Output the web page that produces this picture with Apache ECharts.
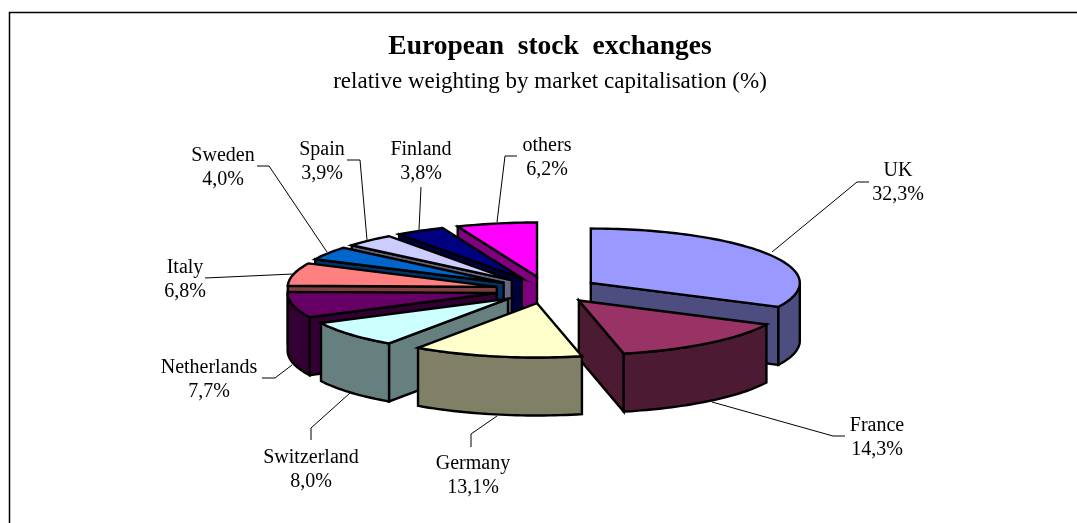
<!DOCTYPE html>
<html><head><meta charset="utf-8">
<style>html,body{margin:0;padding:0;background:#fff}#c{width:1077px;height:523px}</style>
<script src="https://cdn.jsdelivr.net/npm/echarts@6/dist/echarts.min.js"></script>
</head><body><div id="c"></div>
<script>
const categories = ['UK','France','Germany','Switzerland','Netherlands','Italy','Sweden','Spain','Finland','others'];
const values = [32.3,14.3,13.1,8.0,7.7,6.8,4.0,3.9,3.8,6.2];
const valueLabels = ['32,3%','14,3%','13,1%','8,0%','7,7%','6,8%','4,0%','3,9%','3,8%','6,2%'];
const topColors = ['#9999FF','#993366','#FFFFCC','#CCFFFF','#660066','#FF8080','#0066CC','#CCCCFF','#000080','#FF00FF'];
const sideColors = ['#4D4D80','#4D1A33','#808066','#668080','#330033','#804040','#003366','#666680','#000040','#800080'];
const paintOrder = [9,8,7,6,5,4,3,0,1,2];
const labelPos = [[898,183],[877,438],[473,476],[311,470],[209,380],[185,280],[223,168],[322,162],[421,162],[547,158]];
const leaders = [
 [[772,252],[857,182],[869,182]],
 [[712,402],[833,436],[845,436]],
 [[497,416],[471,434],[471,447]],
 [[350,393],[311,428],[311,440]],
 [[262,378],[275,378],[292,365]],
 [[205,278],[293,274]],
 [[257,166],[269,166],[327,252]],
 [[347,160],[360,160],[367,240]],
 [[421,187],[419,230]],
 [[517,156],[505,156],[497,222]]
];
const G = {cx:547, cy:290, R:209, k:0.26, explode:51.6, depth:58};
const total = values.reduce((a,b)=>a+b,0);
let acc = 0;
const slices = values.map(v=>{const a0=acc/total*360; acc+=v; return {a0, a1:acc/total*360};});
const rad = d=>d*Math.PI/180;
function pt(api,i,deg,r,dz){
  const s=slices[i], m=(s.a0+s.a1)/2;
  const ax=G.cx+G.explode*Math.sin(rad(m)), ay=G.cy-G.explode*G.k*Math.cos(rad(m));
  return api.coord([ax+r*Math.sin(rad(deg)), ay-r*G.k*Math.cos(rad(deg))+dz]);
}
function poly(points,fill){
  return {type:'polygon',shape:{points},style:{fill,stroke:'#000',lineWidth:2.4,lineJoin:'miter'}};
}
function renderItem(params,api){
  const i=paintOrder[params.dataIndex], s=slices[i], side=sideColors[i], kids=[];
  const D=G.depth;
  if(Math.sin(rad(s.a0))<0) kids.push(poly([pt(api,i,s.a0,0,0),pt(api,i,s.a0,G.R,0),pt(api,i,s.a0,G.R,D),pt(api,i,s.a0,0,D)],side));
  if(Math.sin(rad(s.a1))>0) kids.push(poly([pt(api,i,s.a1,0,0),pt(api,i,s.a1,G.R,0),pt(api,i,s.a1,G.R,D),pt(api,i,s.a1,0,D)],side));
  const f0=Math.max(s.a0,90), f1=Math.min(s.a1,270);
  if(f1>f0){
    const up=[],dn=[];
    for(let d=f0;d<f1;d+=1.5){up.push(pt(api,i,d,G.R,0));dn.unshift(pt(api,i,d,G.R,D));}
    up.push(pt(api,i,f1,G.R,0));dn.unshift(pt(api,i,f1,G.R,D));
    kids.push(poly(up.concat(dn),side));
  }
  const top=[pt(api,i,s.a0,0,0)];
  for(let d=s.a0;d<s.a1;d+=1.5) top.push(pt(api,i,d,G.R,0));
  top.push(pt(api,i,s.a1,G.R,0));
  kids.push(poly(top,topColors[i]));
  return {type:'group',children:kids};
}
const chart=echarts.init(document.getElementById('c'),null,{renderer:'canvas'});
const FONT='"Liberation Serif","Times New Roman",serif';
chart.setOption({
  animation:false,
  backgroundColor:'#fff',
  grid:{left:0,right:0,top:0,bottom:0},
  xAxis:{type:'value',min:0,max:1077,show:false},
  yAxis:{type:'value',min:0,max:523,inverse:true,show:false},
  title:{text:'European  stock  exchanges',subtext:'relative weighting by market capitalisation (%)',left:545,textAlign:'center',top:28,itemGap:9,
    textStyle:{fontFamily:FONT,fontSize:27.5,fontWeight:'bold',color:'#000'},
    subtextStyle:{fontFamily:FONT,fontSize:23,color:'#000'}},
  series:[
   {type:'lines',coordinateSystem:'cartesian2d',polyline:true,silent:true,z:1,
    lineStyle:{color:'#000',width:1,opacity:1},
    data:leaders.map(c=>({coords:c}))},
   {type:'custom',coordinateSystem:'cartesian2d',renderItem,z:2,silent:true,clip:false,
    data:paintOrder.map(i=>[G.cx,G.cy,values[i]]),encode:{x:0,y:1}},
   {type:'scatter',coordinateSystem:'cartesian2d',symbolSize:0,z:3,silent:true,itemStyle:{opacity:1},
    data:labelPos.map((p,i)=>({value:p,name:categories[i]})),
    label:{show:true,position:'inside',align:'center',verticalAlign:'middle',fontFamily:FONT,fontSize:20,lineHeight:24,color:'#000',
      formatter:p=>categories[p.dataIndex]+'\n'+valueLabels[p.dataIndex]}}
  ],
  graphic:[{type:'polyline',silent:true,z:0,shape:{points:[[9.5,1000],[9.5,12.5],[1077,12.5]]},style:{stroke:'#000',lineWidth:1.5,fill:null}}]
});
</script></body></html>
